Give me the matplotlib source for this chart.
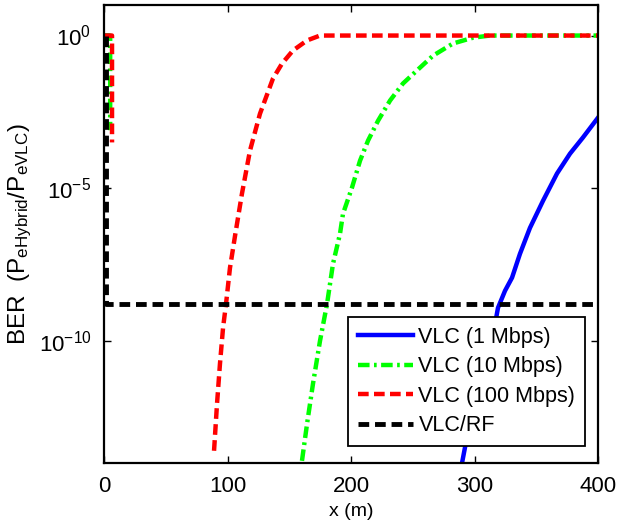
import matplotlib
matplotlib.use("Agg")
import matplotlib.pyplot as plt
import numpy as np

plt.rcParams["font.family"] = ["Liberation Sans", "DejaVu Sans"]
plt.rcParams["mathtext.default"] = "regular"

# distance (m) and BER; NaN splits a series where BER drops off-axis
x_1m = [0, 3, np.nan, 289.9, 296.4, 304.4, 314.2, 319.0, 324.7, 330.4, 336.8, 344.9,
        355.5, 366.8, 377.3, 387.8, 400]
log_1m = [0, 0, np.nan, -14.0, -12.62, -11.41, -10.0, -8.92, -8.36, -7.93, -7.15, -6.30,
          -5.41, -4.52, -3.87, -3.34, -2.69]

x_10m = [0, 5, 5, np.nan, 160.3, 164.4, 169.2, 174.9, 180.6, 185.4, 191.1, 193.5, 200.8,
         207.3, 213.8, 221.9, 231.6, 242.1, 255.9, 266.4, 282.6, 298.8, 312.5, 400]
log_10m = [0, 0, -3.1, np.nan, -13.93, -12.72, -11.41, -10.0, -8.79, -7.48, -6.49, -5.84,
           -4.98, -4.10, -3.44, -2.79, -2.13, -1.57, -1.05, -0.66, -0.26, -0.07, 0, 0]

x_100m = [0, 6.5, 6.5, np.nan, 89.1, 91.5, 93.9, 96.4, 98.8, 102.0, 106.1, 111.7, 118.2,
          126.3, 136.8, 144.1, 153.0, 164.4, 174.9, 400]
log_100m = [0, 0, -3.5, np.nan, -13.6, -12.07, -10.75, -9.57, -8.79, -7.61, -6.56, -5.18,
            -3.77, -2.56, -1.41, -0.92, -0.49, -0.16, 0, 0]

x_rf = [1.5, 1.5, 400]
log_rf = [0, -8.8, -8.8]

labels = ["VLC (1 Mbps)", "VLC (10 Mbps)", "VLC (100 Mbps)", "VLC/RF"]

fig = plt.figure(figsize=(6.25, 5.28), dpi=100)
ax = fig.add_axes([0.1664, 0.1231, 0.7904, 0.8674])

ax.plot(x_1m, 10.0 ** np.array(log_1m), color="#0000ff", lw=3.2, label=labels[0])
ax.plot(x_10m, 10.0 ** np.array(log_10m), color="#00ff00", lw=3.2, label=labels[1],
        dashes=(2.6, 1.0, 0.6, 1.0))
ax.plot(x_100m, 10.0 ** np.array(log_100m), color="#ff0000", lw=3.2, label=labels[2],
        dashes=(2.4, 1.2))
ax.plot(x_rf, 10.0 ** np.array(log_rf), color="black", lw=3.5, label=labels[3],
        dashes=(2.2, 1.2))

ax.set_yscale("log")
ax.set_xlim(0, 400)
ax.set_ylim(1e-14, 1e1)
ax.set_xticks([0, 100, 200, 300, 400])
ax.set_yticks([1e-10, 1e-5, 1e0])
ax.yaxis.set_minor_locator(matplotlib.ticker.NullLocator())
ax.tick_params(direction="in", top=True, right=True, labelsize=16, length=5, width=1,
               pad=9)
for s in ax.spines.values():
    s.set_linewidth(1.6)

ax.set_xlabel("x (m)", fontsize=14, labelpad=5)
ax.set_ylabel("BER  (P$_{eHybrid}$/P$_{eVLC}$)", fontsize=17.5)
ax.yaxis.set_label_coords(-0.142, 0.5)

leg = ax.legend(loc="lower right", bbox_to_anchor=(0.9737, 0.037), borderaxespad=0,
                fontsize=15.5, fancybox=False, framealpha=1, edgecolor="black",
                handlelength=2.55, handletextpad=0.25, labelspacing=0.4,
                borderpad=0.45)
leg.get_frame().set_linewidth(1.3)

fig.savefig("out.png", dpi=100)
